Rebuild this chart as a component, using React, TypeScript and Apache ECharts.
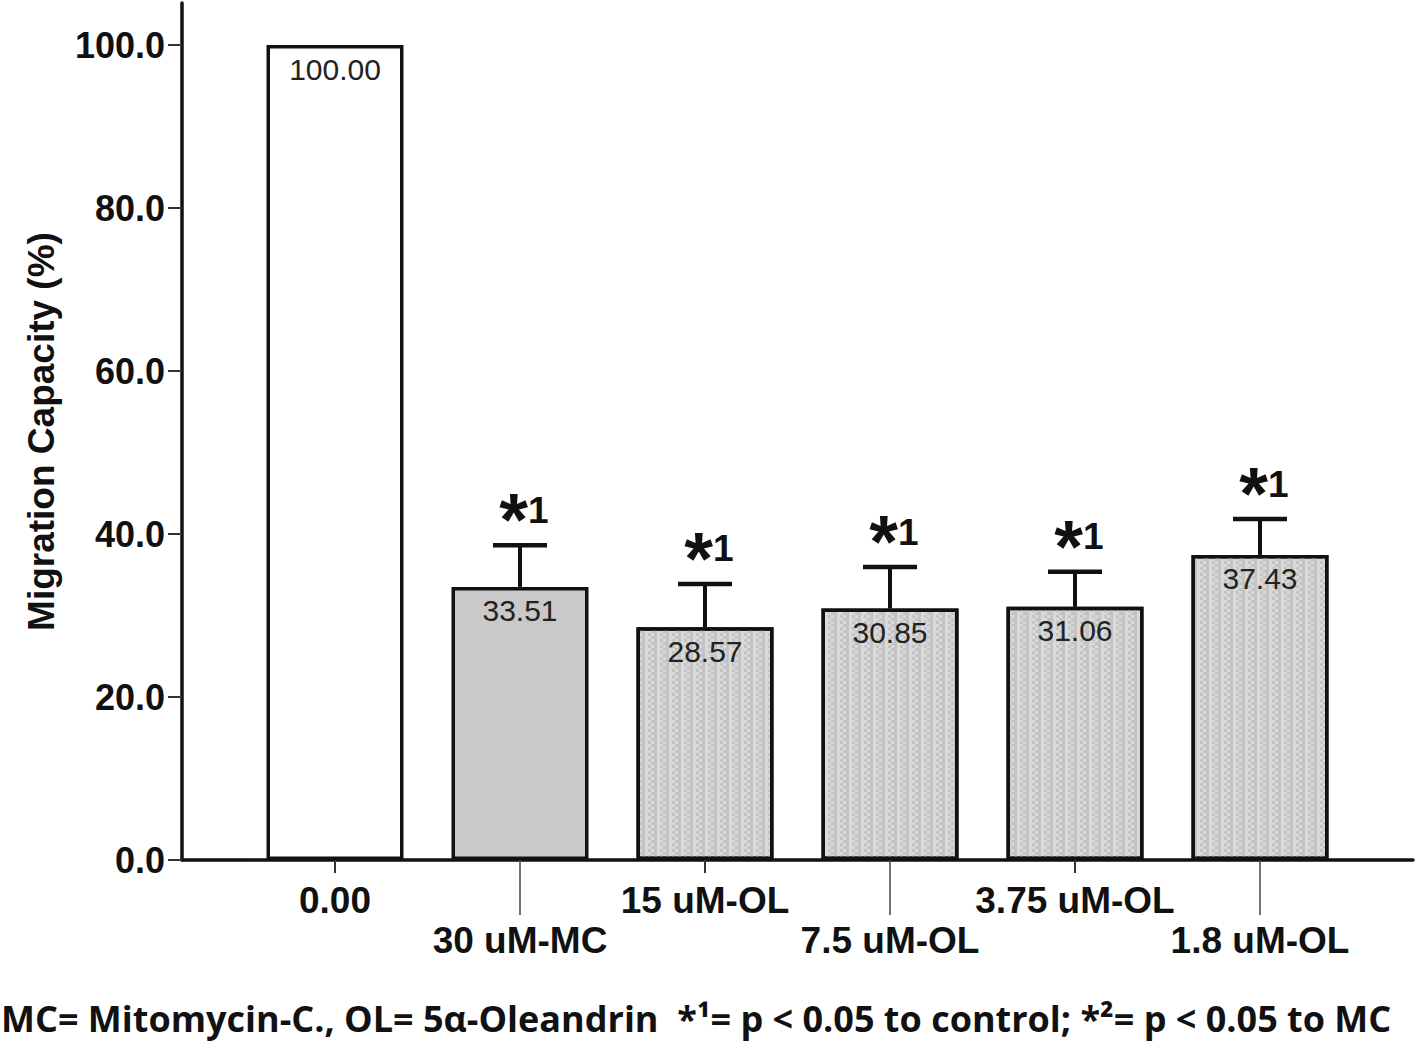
import React, { useEffect, useRef } from "react";
import * as echarts from "echarts";

const categories = ["0.00", "30 uM-MC", "15 uM-OL", "7.5 uM-OL", "3.75 uM-OL", "1.8 uM-OL"];
const means = [100, 33.51, 28.57, 30.85, 31.06, 37.43];
const errors = [0, 5.1, 5.3, 5.1, 4.3, 4.4];
const sigStars = ["", "*", "*", "*", "*", "*"];
const sigNumbers = ["", "1", "1", "1", "1", "1"];
const yAxisName = "Migration Capacity (%)";
const footnote = "MC= Mitomycin-C., OL= 5\u03b1-Oleandrin  *\u00b9= p < 0.05 to control; *\u00b2= p < 0.05 to MC";

const fillKinds = ["white", "solid", "dots", "dots", "dots", "dots"];

const AXIS_FONT = "Arial, 'Liberation Sans', Helvetica, sans-serif";

export default function App() {
  const ref = useRef<HTMLDivElement>(null);
  useEffect(() => {
    if (!ref.current) return;
    const chart = echarts.init(ref.current, undefined, { renderer: "svg" });
    const dotDecal = {
      symbol: "rect",
      symbolSize: 1,
      color: "#c4c4c4",
      backgroundColor: "#ebebeb",
      dashArrayX: [[3, 3], [0, 3, 3]],
      dashArrayY: [3, 0],
      rotation: 0,
    };
    const barData = means.map((v, i) => {
      const kind = fillKinds[i];
      const itemStyle: any = { color: kind === "white" ? "#ffffff" : kind === "solid" ? "#c9c9c9" : "#d9d9d9" };
      if (kind === "dots") itemStyle.decal = dotDecal;
      return { value: v, itemStyle };
    });
    const errData = means.map((v, i) => [i, v, errors[i]]);

    const gridTop = 45;
    const gridBottom = 183;
    const starSize = 74;

    chart.setOption({
      animation: false,
      backgroundColor: "#ffffff",
      title: {
        text: footnote,
        left: 1,
        top: 999,
        padding: 0,
        textStyle: {
          fontFamily: "'Open Sans', Lato, sans-serif",
          fontWeight: "bold",
          fontSize: 36,
          lineHeight: 38,
          color: "#111",
        },
      },
      grid: [
        { left: 182, right: 5, top: 3, bottom: gridBottom },
        { left: 242.5, right: 65.5, top: gridTop, bottom: gridBottom },
      ],
      xAxis: [
        {
          type: "value",
          gridIndex: 0,
          min: 0,
          max: 1,
          axisLine: { show: true, lineStyle: { color: "#111", width: 3.5 } },
          axisTick: { show: false },
          axisLabel: { show: false },
          splitLine: { show: false },
        },
        {
          type: "category",
          gridIndex: 1,
          data: categories,
          axisLine: { show: false },
          axisTick: {
            show: true,
            alignWithLabel: true,
            length: 13,
            interval: (idx: number) => idx % 2 === 0,
            lineStyle: { color: "#333", width: 2 },
          },
          axisLabel: {
            interval: (idx: number) => idx % 2 === 0,
            margin: 20,
            fontFamily: AXIS_FONT,
            fontWeight: "bold",
            fontSize: 37,
            lineHeight: 40,
            color: "#111",
          },
          splitLine: { show: false },
        },
        {
          type: "category",
          gridIndex: 1,
          data: categories,
          position: "bottom",
          axisLine: { show: false },
          axisTick: {
            show: true,
            alignWithLabel: true,
            length: 55,
            interval: (idx: number) => idx % 2 === 1,
            lineStyle: { color: "#444", width: 1.5 },
          },
          axisLabel: {
            interval: (idx: number) => idx % 2 === 1,
            margin: 60,
            fontFamily: AXIS_FONT,
            fontWeight: "bold",
            fontSize: 37,
            lineHeight: 40,
            color: "#111",
          },
          splitLine: { show: false },
        },
      ],
      yAxis: [
        {
          type: "value",
          gridIndex: 0,
          min: 0,
          max: 1,
          name: yAxisName,
          nameLocation: "middle",
          nameGap: 122,
          nameTextStyle: {
            fontFamily: AXIS_FONT,
            fontWeight: "bold",
            fontSize: 37,
            color: "#111",
          },
          axisLine: { show: true, lineStyle: { color: "#111", width: 3.5 } },
          axisTick: { show: false },
          axisLabel: { show: false },
          splitLine: { show: false },
        },
        {
          type: "value",
          gridIndex: 1,
          min: 0,
          max: 100,
          interval: 20,
          offset: 60.5,
          axisLine: { show: false },
          axisTick: { show: true, inside: false, length: 14, lineStyle: { color: "#333", width: 2 } },
          axisLabel: {
            margin: 17,
            fontFamily: AXIS_FONT,
            fontWeight: "bold",
            fontSize: 36,
            color: "#111",
            formatter: (v: number) => v.toFixed(1),
          },
          splitLine: { show: false },
        },
      ],
      series: [
        {
          type: "bar",
          xAxisIndex: 1,
          yAxisIndex: 1,
          data: barData,
          barWidth: 137,
          itemStyle: { borderColor: "#111", borderWidth: 3.5 },
          label: {
            show: true,
            position: "insideTop",
            distance: 9,
            fontFamily: AXIS_FONT,
            fontSize: 30,
            color: "#222",
            formatter: (p: any) => Number(p.value).toFixed(2),
          },
          z: 2,
        },
        {
          type: "custom",
          xAxisIndex: 1,
          yAxisIndex: 1,
          data: errData,
          z: 3,
          renderItem: (params: any, api: any) => {
            const idx = api.value(0);
            const mean = api.value(1);
            const err = api.value(2);
            const star = sigStars[params.dataIndex];
            const num = sigNumbers[params.dataIndex];
            if (!err) return { type: "group", children: [] };
            const base = api.coord([idx, mean]);
            const top = api.coord([idx, mean + err]);
            const half = 27;
            const cx = top[0] + 4;
            const cy = top[1] - 35;
            const starW = 0.389 * starSize;
            const numW = 0.556 * 37;
            const left = cx - (starW + numW) / 2;
            return {
              type: "group",
              children: [
                {
                  type: "line",
                  shape: { x1: base[0], y1: base[1], x2: top[0], y2: top[1] },
                  style: { stroke: "#111", lineWidth: 4 },
                },
                {
                  type: "line",
                  shape: { x1: top[0] - half, y1: top[1], x2: top[0] + half, y2: top[1] },
                  style: { stroke: "#111", lineWidth: 4.5 },
                },
                {
                  type: "text",
                  x: left,
                  y: cy + 0.125 * starSize,
                  style: {
                    text: star,
                    fill: "#111",
                    font: `bold ${starSize}px Arial, 'Liberation Sans', sans-serif`,
                    align: "left",
                    verticalAlign: "middle",
                  },
                },
                {
                  type: "text",
                  x: left + starW,
                  y: cy,
                  style: {
                    text: num,
                    fill: "#111",
                    font: "bold 37px Arial, 'Liberation Sans', sans-serif",
                    align: "left",
                    verticalAlign: "middle",
                  },
                },
              ],
            };
          },
        },
      ],
    });
    return () => chart.dispose();
  }, []);
  return (
    <div
      ref={ref}
      style={{ position: "absolute", left: 0, top: 0, width: 1418, height: 1043, background: "#fff" }}
    />
  );
}
